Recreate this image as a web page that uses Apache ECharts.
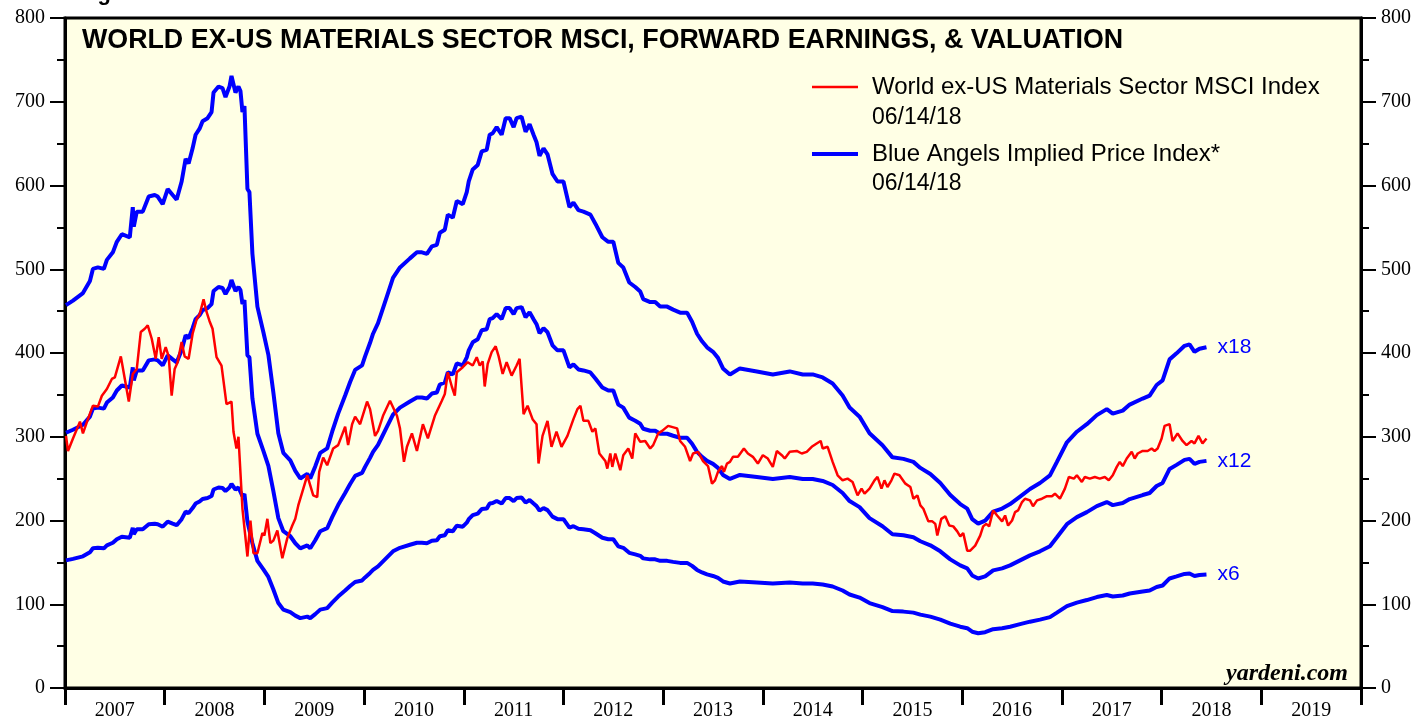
<!DOCTYPE html>
<html>
<head>
<meta charset="utf-8">
<script src="https://cdn.jsdelivr.net/npm/echarts@6/dist/echarts.min.js"></script>
<style>
  html, body { margin: 0; padding: 0; background: #fff; overflow: hidden; }
  #chart { width: 1420px; height: 721px; display: block; }
</style>
</head>
<body>
<div id="chart"></div>
<script>
// year labels on the bottom axis
const yearLabels = ['2007', '2008', '2009', '2010', '2011', '2012', '2013', '2014', '2015', '2016', '2017', '2018', '2019']

// World ex-US Materials Sector MSCI index (decimal years / index level)
const msciYears = [2007.01, 2007.03, 2007.08, 2007.15, 2007.18, 2007.23, 2007.28, 2007.33, 2007.37, 2007.42, 2007.47, 2007.50,
  2007.56, 2007.60, 2007.64, 2007.68, 2007.72, 2007.76, 2007.80, 2007.83, 2007.87, 2007.91, 2007.94, 2007.97,
  2008.01, 2008.04, 2008.07, 2008.10, 2008.13, 2008.17, 2008.20, 2008.24, 2008.28, 2008.32, 2008.35, 2008.39,
  2008.42, 2008.45, 2008.48, 2008.52, 2008.57, 2008.62, 2008.67, 2008.69, 2008.72, 2008.74, 2008.78, 2008.80,
  2008.83, 2008.86, 2008.89, 2008.93, 2008.98, 2009.00, 2009.03, 2009.06, 2009.09, 2009.13, 2009.18, 2009.23,
  2009.28, 2009.31, 2009.34, 2009.38, 2009.43, 2009.46, 2009.49, 2009.53, 2009.55, 2009.59, 2009.63, 2009.69,
  2009.74, 2009.81, 2009.84, 2009.88, 2009.91, 2009.96, 2010.03, 2010.06, 2010.11, 2010.14, 2010.19, 2010.26,
  2010.33, 2010.36, 2010.40, 2010.43, 2010.48, 2010.53, 2010.59, 2010.64, 2010.71, 2010.78, 2010.81, 2010.84,
  2010.88, 2010.91, 2010.93, 2010.99, 2011.04, 2011.09, 2011.13, 2011.16, 2011.19, 2011.21, 2011.24, 2011.28,
  2011.32, 2011.35, 2011.39, 2011.43, 2011.48, 2011.53, 2011.56, 2011.60, 2011.64, 2011.69, 2011.73, 2011.75,
  2011.79, 2011.84, 2011.88, 2011.93, 2011.98, 2012.04, 2012.10, 2012.14, 2012.17, 2012.20, 2012.25, 2012.29,
  2012.32, 2012.36, 2012.42, 2012.44, 2012.47, 2012.49, 2012.52, 2012.57, 2012.60, 2012.65, 2012.69, 2012.72,
  2012.77, 2012.82, 2012.87, 2012.90, 2012.95, 2012.99, 2013.05, 2013.14, 2013.17, 2013.22, 2013.27, 2013.30,
  2013.35, 2013.40, 2013.45, 2013.49, 2013.52, 2013.55, 2013.59, 2013.61, 2013.64, 2013.67, 2013.70, 2013.75,
  2013.81, 2013.85, 2013.90, 2013.95, 2014.00, 2014.05, 2014.10, 2014.14, 2014.19, 2014.22, 2014.27, 2014.34,
  2014.39, 2014.44, 2014.49, 2014.54, 2014.58, 2014.60, 2014.65, 2014.70, 2014.75, 2014.80, 2014.85, 2014.90,
  2014.95, 2014.99, 2015.02, 2015.07, 2015.12, 2015.15, 2015.19, 2015.22, 2015.25, 2015.29, 2015.32, 2015.37,
  2015.43, 2015.48, 2015.51, 2015.55, 2015.58, 2015.61, 2015.66, 2015.70, 2015.73, 2015.75, 2015.79, 2015.83,
  2015.87, 2015.91, 2015.95, 2015.98, 2016.01, 2016.05, 2016.08, 2016.13, 2016.18, 2016.21, 2016.24, 2016.27,
  2016.31, 2016.35, 2016.40, 2016.43, 2016.46, 2016.50, 2016.53, 2016.56, 2016.60, 2016.63, 2016.68, 2016.71,
  2016.75, 2016.80, 2016.85, 2016.90, 2016.93, 2016.98, 2017.03, 2017.07, 2017.12, 2017.15, 2017.20, 2017.23,
  2017.28, 2017.33, 2017.38, 2017.43, 2017.47, 2017.51, 2017.55, 2017.58, 2017.61, 2017.65, 2017.70, 2017.73,
  2017.76, 2017.81, 2017.86, 2017.90, 2017.93, 2017.96, 2018.00, 2018.03, 2018.08, 2018.11, 2018.16, 2018.21,
  2018.25, 2018.30, 2018.33, 2018.37, 2018.41, 2018.45]
const msciValues = [301, 283, 298, 318, 304, 321, 337, 336, 349, 357, 369, 371,
  396, 369, 342, 375, 381, 425, 429, 433, 417, 393, 419, 393,
  407, 396, 349, 381, 389, 413, 396, 393, 423, 440, 446, 464,
  449, 438, 429, 395, 385, 339, 342, 306, 286, 300, 214, 214,
  157, 200, 161, 161, 185, 182, 202, 173, 176, 188, 155, 179,
  194, 202, 218, 234, 254, 242, 230, 228, 258, 275, 266, 286,
  290, 312, 290, 315, 324, 315, 342, 333, 301, 307, 325, 343,
  325, 310, 270, 288, 304, 283, 315, 298, 325, 343, 351, 377,
  360, 349, 377, 383, 389, 385, 395, 385, 390, 360, 387, 401,
  408, 396, 375, 389, 373, 385, 393, 327, 337, 321, 315, 268,
  301, 319, 288, 306, 288, 301, 321, 333, 337, 319, 319, 306,
  310, 280, 271, 262, 280, 264, 280, 260, 278, 286, 274, 304,
  294, 295, 286, 290, 304, 307, 313, 310, 295, 288, 271, 280,
  282, 271, 265, 244, 248, 258, 265, 258, 268, 270, 276, 276,
  286, 280, 276, 268, 278, 274, 264, 283, 278, 274, 282, 283,
  280, 282, 288, 292, 295, 286, 288, 270, 254, 248, 250, 246,
  230, 238, 232, 238, 248, 252, 238, 248, 240, 248, 256, 254,
  244, 240, 226, 230, 218, 214, 199, 199, 196, 182, 202, 205,
  194, 193, 187, 181, 185, 164, 164, 170, 182, 193, 196, 193,
  212, 206, 199, 206, 194, 200, 210, 212, 222, 226, 224, 217,
  224, 226, 229, 229, 232, 226, 238, 252, 250, 254, 246, 252,
  250, 252, 250, 252, 248, 254, 264, 270, 265, 274, 282, 274,
  280, 283, 283, 286, 283, 286, 298, 313, 315, 295, 304, 295,
  290, 295, 292, 301, 292, 298]

// forward earnings behind the Blue Angels implied price index
const earnYears = [2007.01, 2007.08, 2007.18, 2007.25, 2007.28, 2007.33, 2007.39, 2007.42, 2007.48, 2007.52, 2007.57, 2007.65,
  2007.68, 2007.69, 2007.72, 2007.78, 2007.84, 2007.90, 2007.93, 2007.98, 2008.03, 2008.08, 2008.12, 2008.17,
  2008.21, 2008.24, 2008.28, 2008.31, 2008.35, 2008.38, 2008.43, 2008.47, 2008.49, 2008.54, 2008.58, 2008.61,
  2008.65, 2008.67, 2008.71, 2008.74, 2008.76, 2008.78, 2008.80, 2008.83, 2008.85, 2008.88, 2008.93, 2008.99,
  2009.04, 2009.09, 2009.14, 2009.19, 2009.26, 2009.31, 2009.36, 2009.43, 2009.46, 2009.51, 2009.56, 2009.63,
  2009.68, 2009.74, 2009.81, 2009.86, 2009.91, 2009.98, 2010.01, 2010.06, 2010.09, 2010.14, 2010.18, 2010.23,
  2010.29, 2010.36, 2010.46, 2010.53, 2010.58, 2010.63, 2010.68, 2010.73, 2010.76, 2010.81, 2010.84, 2010.89,
  2010.93, 2010.99, 2011.03, 2011.05, 2011.09, 2011.14, 2011.18, 2011.23, 2011.26, 2011.29, 2011.33, 2011.38,
  2011.42, 2011.46, 2011.50, 2011.53, 2011.58, 2011.62, 2011.66, 2011.70, 2011.73, 2011.76, 2011.80, 2011.84,
  2011.89, 2011.94, 2012.00, 2012.06, 2012.10, 2012.15, 2012.20, 2012.27, 2012.32, 2012.39, 2012.45, 2012.50,
  2012.55, 2012.60, 2012.66, 2012.72, 2012.77, 2012.80, 2012.87, 2012.92, 2012.97, 2013.04, 2013.10, 2013.17,
  2013.24, 2013.29, 2013.34, 2013.39, 2013.44, 2013.50, 2013.55, 2013.60, 2013.67, 2013.77, 2013.94, 2014.10,
  2014.27, 2014.40, 2014.50, 2014.60, 2014.70, 2014.80, 2014.87, 2014.97, 2015.07, 2015.20, 2015.30, 2015.41,
  2015.51, 2015.58, 2015.68, 2015.78, 2015.88, 2015.98, 2016.05, 2016.10, 2016.16, 2016.23, 2016.31, 2016.40,
  2016.48, 2016.58, 2016.68, 2016.78, 2016.88, 2016.95, 2017.05, 2017.15, 2017.25, 2017.35, 2017.45, 2017.51,
  2017.61, 2017.68, 2017.81, 2017.88, 2017.95, 2018.01, 2018.08, 2018.15, 2018.23, 2018.28, 2018.33, 2018.38,
  2018.45]
const fwdEarnings = [25.4, 25.7, 26.2, 27.0, 27.8, 27.9, 27.8, 28.4, 28.9, 29.6, 30.1, 29.9,
  31.9, 30.6, 31.6, 31.6, 32.6, 32.7, 32.6, 32.1, 33.1, 32.7, 32.4, 33.6,
  35.1, 34.8, 35.8, 36.7, 37.1, 37.6, 37.8, 38.2, 39.5, 39.9, 39.8, 39.2,
  39.9, 40.6, 39.5, 39.9, 39.6, 38.2, 38.6, 33.1, 32.9, 28.8, 25.3, 23.6,
  22.1, 19.6, 16.9, 15.6, 15.1, 14.4, 13.9, 14.2, 13.9, 14.7, 15.6, 15.9,
  17.0, 18.2, 19.4, 20.3, 21.1, 21.4, 22.0, 22.9, 23.5, 24.2, 25.0, 26.0,
  27.2, 27.9, 28.5, 28.9, 28.9, 28.8, 29.3, 29.4, 30.2, 30.4, 31.4, 31.2,
  32.3, 32.1, 32.9, 33.6, 34.4, 34.7, 35.6, 35.7, 36.7, 36.8, 37.2, 36.7,
  37.8, 37.8, 37.2, 37.8, 37.9, 36.9, 37.4, 36.7, 36.2, 35.3, 35.8, 35.4,
  34.1, 33.6, 33.6, 31.9, 32.2, 31.7, 31.6, 31.4, 30.8, 29.9, 29.6, 29.6,
  28.2, 27.9, 26.9, 26.6, 26.3, 25.8, 25.6, 25.6, 25.3, 25.3, 25.1, 24.9,
  24.9, 24.3, 23.5, 23.0, 22.6, 22.3, 21.9, 21.2, 20.8, 21.2, 21.0, 20.8,
  21.0, 20.8, 20.8, 20.6, 20.2, 19.4, 18.6, 18.0, 16.9, 16.1, 15.3, 15.2,
  15.0, 14.6, 14.2, 13.6, 12.8, 12.2, 11.9, 11.2, 10.9, 11.1, 11.7, 11.9,
  12.2, 12.7, 13.2, 13.6, 14.1, 15.0, 16.3, 17.0, 17.5, 18.1, 18.5, 18.2,
  18.4, 18.8, 19.2, 19.4, 20.1, 20.4, 21.8, 22.2, 22.7, 22.8, 22.3, 22.5,
  22.6]

// valuation multiples drawn as the blue lines
const multiples = [18, 12, 6]

const msciName = 'World ex-US Materials Sector MSCI Index'
const blueName = 'Blue Angels Implied Price Index*'

const serif = 'Liberation Serif'
const sans = 'Liberation Sans'

const chart = echarts.init(document.getElementById('chart'))

const blueSeries = multiples.map(m => ({
  name: blueName,
  type: 'line',
  xAxisIndex: 1,
  showSymbol: false,
  symbol: 'none',
  color: '#0000ff',
  lineStyle: { width: 4, color: '#0000ff' },
  data: earnYears.map((y, i) => [y, fwdEarnings[i] * m]),
  endLabel: {
    show: true,
    formatter: 'x' + m,
    color: '#0000ff',
    fontFamily: sans,
    fontSize: 21,
    distance: 11
  },
  z: 2
}))

chart.setOption({
  animation: false,
  backgroundColor: '#ffffff',
  title: {
    text: 'WORLD EX-US MATERIALS SECTOR MSCI, FORWARD EARNINGS, & VALUATION',
    left: 77,
    top: 22,
    textStyle: {
      color: '#000',
      fontFamily: sans,
      fontWeight: 'bold',
      fontSize: 26.8
    }
  },
  legend: {
    orient: 'vertical',
    left: 812,
    top: 75,
    padding: 0,
    itemWidth: 46,
    itemHeight: 14,
    itemGap: 43,
    data: [
      { name: msciName, icon: 'path://M0,0H46V2.5H0Z' },
      { name: blueName, icon: 'path://M0,0H46V4H0Z' }
    ],
    textStyle: {
      color: '#000',
      fontFamily: sans,
      fontSize: 24,
      lineHeight: 24,
      padding: [0, 0, 0, 9]
    }
  },
  graphic: [
    { type: 'text', left: 872, top: 106, style: { text: '06/14/18', font: '23px "Liberation Sans"', fill: '#000' } },
    { type: 'text', left: 872, top: 172, style: { text: '06/14/18', font: '23px "Liberation Sans"', fill: '#000' } },
    { type: 'text', right: 72, top: 662, style: { text: 'yardeni.com', font: 'italic bold 24px "Liberation Serif"', fill: '#000' } },
    { type: 'text', left: 78, top: -17, style: { text: 'Figure 2.', font: 'bold 22px "Liberation Sans"', fill: '#000' } }
  ],
  grid: {
    left: 65,
    right: 59,
    top: 18,
    bottom: 31,
    show: true,
    backgroundColor: '#ffffe5',
    borderColor: '#000',
    borderWidth: 3
  },
  xAxis: [
    {
      type: 'category',
      data: yearLabels,
      boundaryGap: true,
      axisLine: { show: true, lineStyle: { color: '#000', width: 3 } },
      axisTick: { show: true, length: 17, lineStyle: { color: '#000', width: 3 } },
      axisLabel: { color: '#000', fontFamily: serif, fontSize: 20, margin: 13 },
      splitLine: { show: false }
    },
    {
      type: 'value',
      min: 2007,
      max: 2020,
      show: false,
      splitLine: { show: false }
    }
  ],
  yAxis: [0, 1].map(i => ({
    type: 'value',
    position: i === 0 ? 'left' : 'right',
    min: 0,
    max: 800,
    interval: 100,
    axisLine: { show: true, lineStyle: { color: '#000', width: 3 } },
    axisTick: { show: true, length: 15, lineStyle: { color: '#000', width: 2 } },
    minorTick: { show: true, splitNumber: 2, length: 8, lineStyle: { color: '#000', width: 2 } },
    axisLabel: { color: '#000', fontFamily: serif, fontSize: 20, margin: 20 },
    splitLine: { show: false }
  })),
  series: [
    ...blueSeries,
    {
      name: msciName,
      type: 'line',
      xAxisIndex: 1,
      showSymbol: false,
      symbol: 'none',
      color: '#ff0000',
      lineStyle: { width: 2.5, color: '#ff0000' },
      data: msciYears.map((y, i) => [y, msciValues[i]]),
      z: 3
    }
  ]
})
</script>
</body>
</html>
